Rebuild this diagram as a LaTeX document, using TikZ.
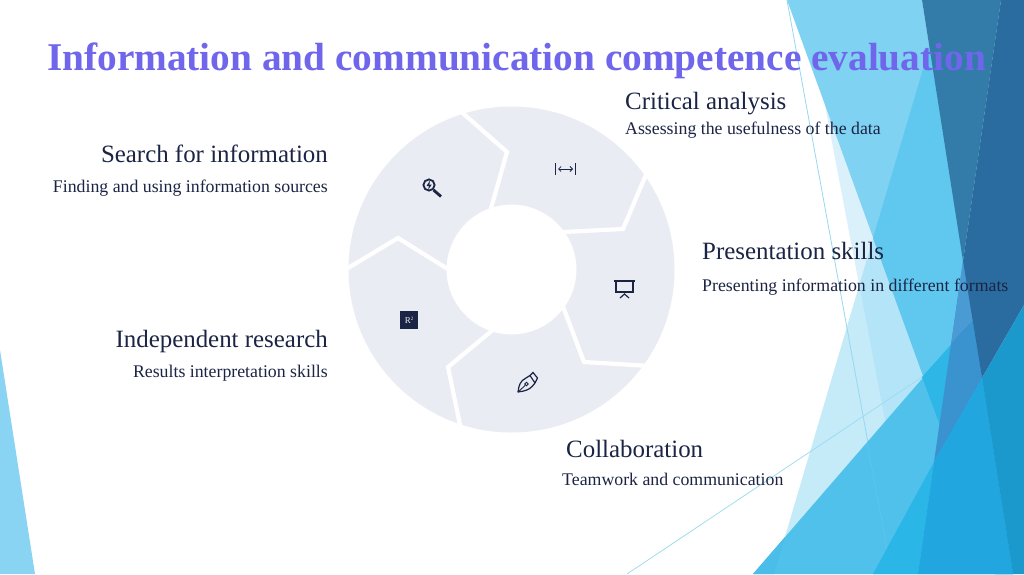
\documentclass[tikz,border=0pt]{standalone}
\usepackage{fontspec}
\setmainfont{Liberation Serif}
\usetikzlibrary{arrows.meta}
\definecolor{ink}{HTML}{1B2444}
\definecolor{titlec}{HTML}{6F66EC}
\definecolor{ringc}{HTML}{E9ECF3}
\definecolor{fCorner}{RGB}{138,212,243}
\definecolor{fVery}{RGB}{218,241,251}
\definecolor{fLight}{RGB}{197,234,248}
\definecolor{fLightB}{RGB}{179,228,247}
\definecolor{fA}{RGB}{127,210,242}
\definecolor{fAL}{RGB}{96,200,238}
\definecolor{lineA}{RGB}{150,216,240}
\definecolor{lineB}{RGB}{160,220,240}
\definecolor{lineC}{RGB}{90,198,236}
\definecolor{fTa}{RGB}{80,193,235}
\definecolor{fTb}{RGB}{75,189,233}
\definecolor{fTc}{RGB}{46,183,230}
\definecolor{fMa}{RGB}{58,146,207}
\definecolor{fMb}{RGB}{74,155,212}
\definecolor{fDa}{RGB}{51,123,169}
\definecolor{fDb}{RGB}{42,108,159}
\definecolor{fRa}{RGB}{42,182,230}
\definecolor{fRb}{RGB}{33,166,223}
\definecolor{fRc}{RGB}{27,152,204}
\tikzset{
  head/.style={inner sep=0pt,text=ink,font=\fontsize{24.9}{28}\selectfont},
  sub/.style={inner sep=0pt,text=ink,font=\fontsize{17.8}{20}\selectfont},
  gap/.style={draw=white,line width=4.2pt,line join=miter},
  icon/.style={draw=ink,line width=1.2pt},
  hair/.style={draw=#1,line width=0.8pt}
}
\begin{document}
\begin{tikzpicture}[x=1pt,y=-1pt]
\useasboundingbox (0,0) rectangle (1024,574);
\fill[white] (0,0) rectangle (1024,574);
% left corner
\fill[fCorner] (0,350) -- (35,574) -- (0,574) -- cycle;
% facets
\fill[fVery] (805,0) -- (1024,0) -- (1024,574) -- (914,574) -- cycle;
\fill[fLight] (859.3,285) -- (774,574) -- (914,574) -- cycle;
\fill[fLightB] (929.5,47) -- (859.3,285) -- (914,574) -- (1013,574) -- cycle;
\fill[fA] (787,0) -- (922,0) -- (1013,574) -- (995,574) -- cycle;
\fill[fAL] (929.5,47) -- (873,238) -- (995,574) -- (1013,574) -- cycle;
\draw[hair=lineA] (787,0) -- (892,574);
\draw[hair=lineB] (627,574) -- (922,377);
% lower triangle
\fill[fTa] (753,574) -- (973,320) -- (1013,574) -- cycle;
\fill[fTb] (753,574) -- (785,537) -- (774,574) -- cycle;
\fill[fTc] (922,377) -- (973,320) -- (1013,574) -- (995,574) -- cycle;
\draw[hair=lineC] (867,443) -- (892,574);
% mid band
\fill[fMa] (963,261) -- (982,378) -- (934,462) -- cycle;
\fill[fMb] (963,261) -- (973,320) -- (951.4,342.7) -- cycle;
% dark
\fill[fDa] (922,0) -- (1001,0) -- (963,261) -- cycle;
\fill[fDb] (1001,0) -- (1024,0) -- (1024,305) -- (982,378) -- (963,261) -- cycle;
% lower right
\fill[fRa] (873,574) -- (934,462) -- (918,574) -- cycle;
\fill[fRb] (934,462) -- (982,378) -- (1013,574) -- (918,574) -- cycle;
\fill[fRc] (982,378) -- (1024,305) -- (1024,574) -- (1013,574) -- cycle;
% ring
\coordinate (c) at (511.5,269.5);
\fill[ringc,even odd rule] (c) circle[radius=163] (c) circle[radius=65];
\draw[gap] (457,108) -- (507,152) -- (490,212);
\draw[gap] (648,170) -- (623,229) -- (563,232);
\draw[gap] (650,366) -- (584,362) -- (562,304);
\draw[gap] (461,430) -- (448,367) -- (494,329);
\draw[gap] (343,271) -- (398,238) -- (451,271);
% magnifier icon
\draw[icon,line width=1.8pt] (429,185) circle[radius=5.6];
\draw[icon,line width=2.8pt] (433.5,190) -- (441,196.5);
\fill[ink] (430,180.5) -- (426.5,186) -- (429,186) -- (428,190) -- (431.8,184.5) -- (429.4,184.5) -- cycle;
% range icon
\draw[icon] (555.5,163) -- (555.5,175) (575.5,163) -- (575.5,175);
\draw[icon,line width=0.8pt,{Straight Barb[length=2.5pt,width=5pt]}-{Straight Barb[length=2.5pt,width=5pt]}] (558,169) -- (573,169);
% screen icon
\draw[icon] (614,281) -- (635,281);
\draw[icon] (616,281) -- (616,292) -- (633,292) -- (633,281);
\draw[icon] (620,298) -- (624.5,294) -- (629,298);
% pen icon
\draw[icon,line join=round] (518,392) .. controls (519,385) and (520,381) .. (526,378) -- (530,375.5) -- (535,383) -- (532.5,386) .. controls (529,390) and (525,391) .. (518,392) -- cycle;
\draw[icon] (530,375.5) -- (533,372.5) -- (537.5,378) -- (535,383);
\draw[icon,line width=0.9pt] (526.5,384) circle[radius=1.8];
\draw[icon,line width=0.9pt] (518,392) -- (525.3,385.3);
% R2 icon
\fill[ink] (400,311) rectangle (418,329);
\node[inner sep=0pt,text=ringc,font=\fontsize{9}{10}\selectfont] (rsq) at (409,320) {R\raisebox{3pt}{\fontsize{5}{6}\selectfont 2}};
% text
\node[inner sep=0pt,anchor=base west,text=titlec,font=\bfseries\fontsize{39.3}{44}\selectfont] (title) at (47,70) {Information and communication competence evaluation};
\node[head,anchor=base east] (h1) at (328,162) {Search for information};
\node[sub,anchor=base east] (s1) at (328,192) {Finding and using information sources};
\node[head,anchor=base west] (h2) at (625,109) {Critical analysis};
\node[sub,anchor=base west] (s2) at (625,134) {Assessing the usefulness of the data};
\node[head,anchor=base west] (h3) at (702,259) {Presentation skills};
\node[sub,anchor=base west] (s3) at (702,291) {Presenting information in different formats};
\node[head,anchor=base east] (h4) at (328,347) {Independent research};
\node[sub,anchor=base east] (s4) at (328,377) {Results interpretation skills};
\node[head,anchor=base west] (h5) at (566,457) {Collaboration};
\node[sub,anchor=base west] (s5) at (562,485) {Teamwork and communication};
\end{tikzpicture}
\end{document}
